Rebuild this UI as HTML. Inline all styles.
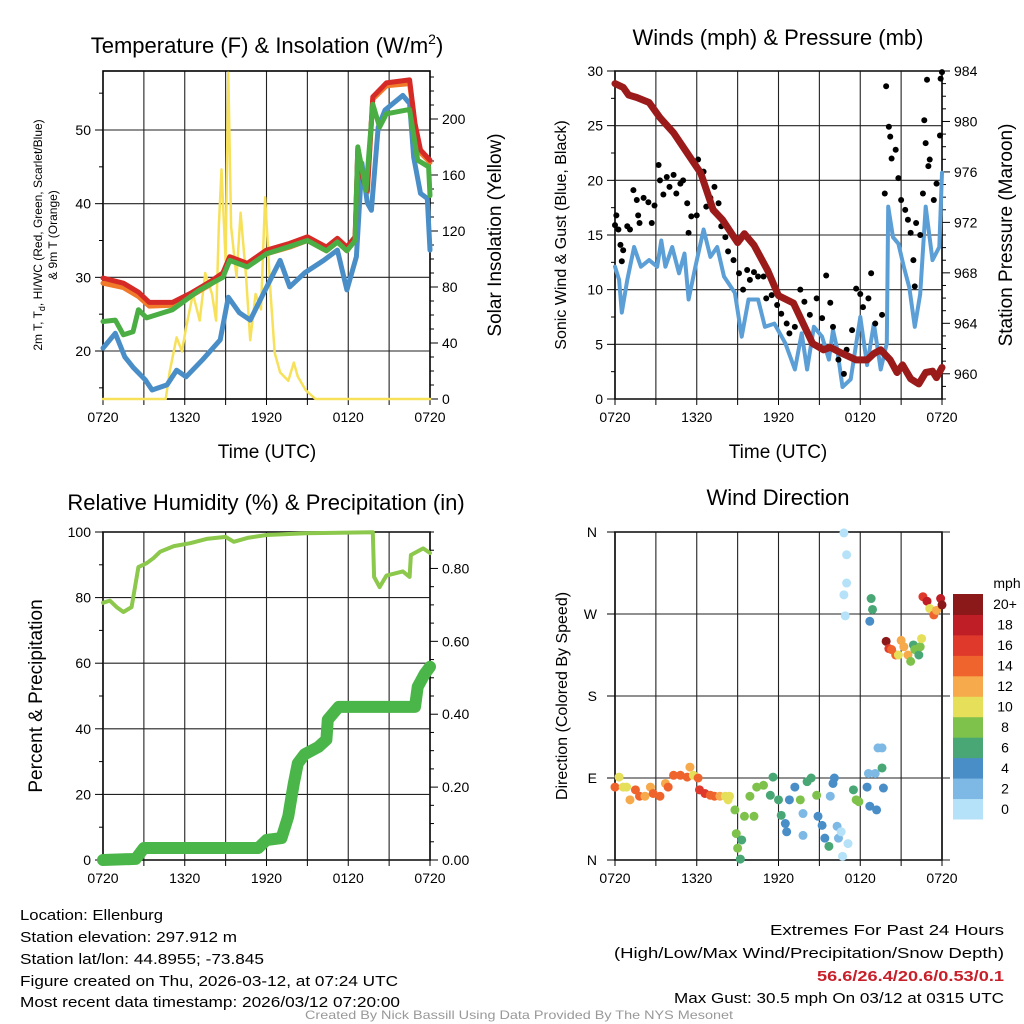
<!DOCTYPE html>
<html><head><meta charset="utf-8"><style>
html,body{margin:0;padding:0;background:#fff;}
svg{display:block;font-family:"Liberation Sans",Arial,sans-serif;}
</style></head><body>
<svg id="fig" width="1024" height="1024" viewBox="0 0 1024 1024" xmlns="http://www.w3.org/2000/svg">
<g id="p1"></g>
<g id="p2"></g>
<g id="p3"></g>
<g id="p4"></g>
<g font-size="15" fill="#000">
<text x="20" y="920" textLength="143" lengthAdjust="spacingAndGlyphs">Location: Ellenburg</text>
<text x="20" y="942" textLength="217" lengthAdjust="spacingAndGlyphs">Station elevation: 297.912 m</text>
<text x="20" y="964" textLength="244" lengthAdjust="spacingAndGlyphs">Station lat/lon: 44.8955; -73.845</text>
<text x="20" y="986" textLength="378" lengthAdjust="spacingAndGlyphs">Figure created on Thu, 2026-03-12, at 07:24 UTC</text>
<text x="20" y="1007" textLength="380" lengthAdjust="spacingAndGlyphs">Most recent data timestamp: 2026/03/12 07:20:00</text>
</g>
<g font-size="15" fill="#000">
<text x="1004" y="935" text-anchor="end" textLength="234" lengthAdjust="spacingAndGlyphs">Extremes For Past 24 Hours</text>
<text x="1004" y="958" text-anchor="end" textLength="390" lengthAdjust="spacingAndGlyphs">(High/Low/Max Wind/Precipitation/Snow Depth)</text>
<text x="1004" y="981" text-anchor="end" fill="#c8202a" font-weight="bold" textLength="187" lengthAdjust="spacingAndGlyphs">56.6/26.4/20.6/0.53/0.1</text>
<text x="1004" y="1003" text-anchor="end" textLength="330" lengthAdjust="spacingAndGlyphs">Max Gust: 30.5 mph On 03/12 at 0315 UTC</text>
</g>
<text x="519" y="1019" text-anchor="middle" font-size="12" fill="#999" textLength="428" lengthAdjust="spacingAndGlyphs">Created By Nick Bassill Using Data Provided By The NYS Mesonet</text>
</svg>
<script>
// ---------- data (time in hours since 0720 UTC) ----------
const xTickLabels = ["0720","1320","1920","0120","0720"];
const tRed = [0,1.5,2.6,3.4,5.1,6.4,7.85,8.8,9.3,10.6,12,13.7,15,16.4,17.2,17.9,18.5,18.7,19.1,19.4,19.8,20.8,22.5,22.9,23.3,24];
const tempRed = [29.9,29.2,28,26.6,26.6,27.8,29.4,30.6,32.8,31.9,33.7,34.6,35.5,34.1,35.3,34.1,35.5,47.5,43.2,41.8,54.5,56.4,56.8,50.9,47.3,45.9];
const tempOrange = [29.2,28.6,27.4,26.1,26.2,27.4,29.0,30.2,32.3,31.5,33.2,34.1,35.0,33.6,34.8,33.6,35.0,47.0,42.8,41.5,54.2,56.0,56.3,50.5,46.9,45.6];
const tGreen = [0,0.9,1.5,2.2,2.6,3.2,5.1,7.1,8.8,9.3,10.6,12,13.7,15,16.4,17.2,17.9,18.5,18.7,19.3,19.8,20.3,20.8,22.5,23.1,23.9,24];
const tempGreen = [24,24.2,22.2,22.6,25.6,24.5,25.6,28.3,30,32.3,31.4,33.2,34.2,35,33.6,34.8,33.6,35,47.7,41.8,53.5,50.4,52.2,52.8,45.9,45,41.1];
const tBlue = [0,0.9,1.6,2.2,3.1,3.6,4.7,5.4,6.1,7.3,8.6,9.2,10,10.8,11.8,13,13.7,14.8,16.2,17.2,17.9,18.6,19,19.4,19.7,20.2,20.7,22,22.5,22.8,23.3,23.8,24];
const tempBlue = [20.4,22.4,19.2,17.8,16.1,14.7,15.4,17.4,16.5,18.8,21.5,27.3,25.2,24.2,27.9,32.3,28.7,30.6,32.3,33.7,28.3,32.8,45.5,40.1,39.1,50.4,52.7,54.7,53.6,46.3,41.4,40.7,33.7];
const tSolar = [0,4.6,4.9,5.4,5.8,6.1,6.6,7.1,7.5,8,8.3,8.5,8.7,9,9.2,9.4,9.8,10.1,10.5,10.8,11.2,11.6,11.9,12.3,12.6,13,13.6,14,14.3,14.9,15.6,24];
const solar = [0,0,20,44,34,51,75,56,90,75,56,123,164,99,233,123,87,133,87,42,75,64,144,75,33,19,13,26,16,6,0,0];

const tPres = [0,0.6,1,1.6,2.5,3.3,4.3,5.3,6.3,7.2,7.9,9,9.5,10.2,11.2,12,13.1,13.8,14.5,15.3,15.8,16.7,17.7,18.5,19,19.5,20.2,20.7,21.1,21.7,22.3,22.8,23.3,23.6,24];
const pressure = [983,982.7,982.1,981.9,981.5,980.3,979.1,977.5,975.9,973,972.2,970.4,971.1,970.2,968.2,966.2,965.6,964,962.4,961.9,962.1,961.6,961.1,961.1,961.6,961.9,961.1,960.1,960.7,959.6,959.2,960.1,960.2,959.7,960.5];
const tWind = [0,0.3,0.5,0.9,1.4,1.9,2.5,3.1,3.4,3.7,4.2,4.7,5.1,5.4,5.9,6.5,7,7.5,8,8.8,9.3,9.8,10.5,11,11.7,12.5,13.2,13.7,14.1,14.6,15.2,15.7,16,16.3,16.7,17.3,18,18.5,19,19.5,19.95,20.05,20.4,20.8,21.2,21.6,22,22.4,22.8,23.3,23.8,24];
const windSpeed = [12.1,10.9,7.9,10.9,13.9,12.1,12.7,12.1,14.5,12.1,13.9,11.5,13.3,9.1,12.1,15.5,13,13.9,11.2,9.7,5.7,9.1,9.1,6.6,6.9,5.1,2.7,6,2.7,6.6,5.7,3.6,6.3,4.6,1.1,1.8,7.5,3.1,6.9,2.7,5.1,17.6,14.8,14.2,12.1,10.2,6.6,9.6,17.6,12.7,13.9,20.7];
const tGust = [0,0.1,0.25,0.4,0.5,0.6,0.9,1.1,1.35,1.6,1.7,1.8,2.1,2.45,2.7,2.9,3.2,3.3,3.55,3.8,4,4.3,4.5,4.8,5,5.3,5.4,5.6,6,6.1,6.5,6.7,7,7.3,7.6,7.8,8.1,8.3,8.7,9.1,9.4,9.7,9.9,10.2,10.5,10.9,11.1,11.5,11.9,12.2,12.6,12.8,13.2,13.6,13.9,14.3,14.8,15.2,15.5,15.8,16,16.4,16.8,17,17.4,17.7,18,18.2,18.6,18.8,19.1,19.6,19.8,19.9,20.1,20.2,20.3,20.6,20.8,21,21.3,21.5,21.7,21.9,22,22.1,22.4,22.6,22.7,22.8,22.9,23,23.1,23.4,23.6,23.85,23.9,24];
const gust = [15.9,16.8,15.5,14.1,12.6,13.6,15.8,15.5,19.1,18.2,16.8,16.1,18.4,18,16.1,17.7,21.4,20,18.7,20.3,19.4,20.5,18.8,19.7,20,17.9,15.2,16.7,16.8,21.9,20.8,17.6,18.4,19.4,17.9,15.8,14.8,13.5,12.7,11.5,10,11.8,10.9,11.6,11.2,11.2,9.2,9.5,8.6,7.8,6.9,6,6.6,10,8.9,7.7,9.2,7.4,11.3,8.8,6.6,3.6,2.3,4.5,6.3,10.1,9.6,8.4,9.2,11.5,6.9,7.7,18.8,28.6,24.9,24,22,22.8,20.2,18.2,17.3,16.4,15.2,12.7,10.3,16.1,15,18.8,25.5,23.4,29.2,21.3,21.9,18.2,19.7,24.1,29.3,29.9];

const tRH = [0,0.5,1,1.5,2.1,2.6,3.2,3.7,4.2,5.2,6.4,7.6,9,9.6,10.6,12,14.9,19.8,19.9,20.3,20.8,22,22.5,22.6,23.5,24];
const rh = [78.4,79.1,77.1,75.6,77.1,89.3,90.5,92,94,95.7,96.6,97.9,98.5,97,98.2,99.1,99.6,99.9,86.3,83.2,86.7,88,86.3,93,95,93.6];
const tPrecip = [0,2.4,3,11.4,12,13.1,13.6,13.8,14,14.3,14.8,15.8,16.4,16.5,17.3,22.9,23.1,23.6,24];
const precip = [0,0.003,0.033,0.033,0.055,0.06,0.12,0.165,0.21,0.265,0.29,0.31,0.33,0.385,0.42,0.42,0.475,0.51,0.53];

const tDir = [0,0.3,0.6,0.85,1.1,1.5,1.8,2.2,2.6,2.8,3.3,3.7,3.9,4.3,4.8,5.3,5.5,5.75,6.1,6.2,6.6,7,7.3,7.7,8.1,8.4,8.3,8.8,8.9,9,9.2,9.3,9.5,9.9,10.2,10.4,10.9,11.4,11.6,12,12.2,12.5,12.6,12.8,13.2,13.6,13.8,13.8,14.1,14.4,14.8,14.9,15.2,15.4,15.7,15.8,16,16.1,16.3,16.4,16.6,16.7,16.8,17,17,16.8,16.9,17.1,17.5,17.7,17.9,18.5,18.7,18.8,18.9,18.7,18.6,19.1,19.2,19.3,19.6,19.6,19.7,19.9,20.1,20.3,20.6,20.8,21,21.2,21.5,21.7,21.9,22,22.3,22.4,22.5,22.6,22.9,23.1,23.4,23.6,23.9,24];
const dirDeg = [80,91,80,80,66,77,70,70,80,73,70,84,80,93,93,91,102,93,90,77,73,71,70,70,70,70,66,55,29,13,1,22,48,70,48,80,82,71,91,66,49,40,31,66,80,66,51,27,86,90,71,48,38,24,15,70,84,90,37,24,31,4,359,335,304,291,268,18,77,66,64,80,59,287,275,262,95,95,55,123,123,101,79,240,232,231,225,225,241,234,225,218,236,231,225,234,243,289,284,276,269,274,287,280];
const dirSpeed = [14,10,10,10,12,14,14,12,12,14,14,12,14,14,14,14,12,10,14,16,16,14,14,12,10,10,10,8,8,8,6,6,8,8,8,8,8,6,6,6,6,4,4,4,4,8,2,2,6,6,8,4,4,4,6,2,4,4,2,2,0,0,0,0,0,0,0,0,6,8,8,4,4,6,6,4,2,2,4,2,2,6,4,20,16,14,14,10,12,12,12,8,6,8,6,8,10,16,18,10,14,12,18,20];
const speedBins = [0,2,4,6,8,10,12,14,16,18,20];
const speedLabels = ["0","2","4","6","8","10","12","14","16","18","20+"];
const speedColors = ["#b5e2f8","#7db9e4","#4a8ec8","#49a775","#7ec24c","#e6df5a","#f6aa4b","#ef642c","#df392c","#bf1e26","#8b1919"];

// ---------- helpers ----------
const NS = "http://www.w3.org/2000/svg";
function mk(parent, tag, attrs){ const e=document.createElementNS(NS,tag); for(const k in attrs) e.setAttribute(k,attrs[k]); parent.appendChild(e); return e; }
function txt(parent, s, attrs){ const e=mk(parent,"text",attrs); e.textContent=s; return e; }
function lin(d0,d1,r0,r1){ return v => r0+(v-d0)*(r1-d0===0?0:(r1-r0)/(d1-d0)); }
function pathFrom(xs, ys, fx, fy){ return xs.map((t,i)=>(i?"L":"M")+fx(t).toFixed(1)+","+fy(ys[i]).toFixed(1)).join(""); }

function frame(g, L, R, T, B, fx){
  // grid verticals every 3 h
  for(let h=3;h<24;h+=3){ const x=fx(h); const l=mk(g,"line",{x1:x,x2:x,y1:T,y2:B,stroke:"#222","stroke-width":1.1});
      }
  // x ticks + labels
  for(let h=0;h<=24;h+=3){ const x=fx(h); mk(g,"line",{x1:x,x2:x,y1:B,y2:B+6,stroke:"#000","stroke-width":1}); }
  xTickLabels.forEach((s,i)=>{ const t=txt(g,s,{x:fx(i*6),y:B+23,"text-anchor":"middle","font-size":14});
      });
  const r=mk(g,"rect",{x:L,y:T,width:R-L,height:B-T,fill:"none",stroke:"#000","stroke-width":1.6});
   
}
function hgrid(g,L,R,y){ const l=mk(g,"line",{x1:L,x2:R,y1:y,y2:y,stroke:"#222","stroke-width":1.1});
    }
function yticks(g, side, X, fy, from, to, major, minor, fmt, grid, L, R){
  const dir = side==="left"?-1:1;
  for(let v=from; v<=to+1e-9; v+=minor){ const y=fy(v); const isMaj=Math.abs(v/major-Math.round(v/major))<1e-6;
    mk(g,"line",{x1:X,x2:X+dir*(isMaj?8:4),y1:y,y2:y,stroke:"#000","stroke-width":1});
    if(isMaj){ const t=txt(g,fmt(v),{x:X+dir*12,y:y+5,"text-anchor":side==="left"?"end":"start","font-size":14});
       
      if(grid) hgrid(g,L,R,y); } }
}
function vtitle(g,s,x,y,size,name){ const t=txt(g,s,{x:0,y:0,"text-anchor":"middle","font-size":size,transform:`translate(${x},${y}) rotate(-90)`});
    return t; }
function series(g,xs,ys,fx,fy,color,w,name){ const p=mk(g,"path",{d:pathFrom(xs,ys,fx,fy),fill:"none",stroke:color,"stroke-width":w,"stroke-linejoin":"round","stroke-linecap":"round"});
    return p; }

// ---------- panel 1 ----------
(function(){
  const g=document.getElementById("p1"); const L=103,R=430,T=71,B=399;
  const fx=lin(0,24,L,R); const fy=lin(20,50,351,130); const fs=lin(0,200,399,119);
  const ttl=txt(g,"",{x:267,y:53,"text-anchor":"middle","font-size":22});
  ttl.innerHTML='Temperature (F) &amp; Insolation (W/m<tspan font-size="14" dy="-9">2</tspan><tspan dy="9">)</tspan>';
   
  frame(g,L,R,T,B,fx);
  yticks(g,"left",L,fy,15,55,10,5,v=>v,true,L,R);
  yticks(g,"right",R,fs,0,230,40,10,v=>v,false);
  series(g,tSolar,solar,fx,fs,"#f7e15a",2.5,"solar-insolation-line");
  series(g,tRed,tempOrange,fx,fy,"#f07a2a",5,"9m-temperature-line");
  series(g,tBlue,tempBlue,fx,fy,"#4a8ec8",5,"wind-chill-line");
  series(g,tRed,tempRed,fx,fy,"#d62a26",5,"temperature-line");
  series(g,tGreen,tempGreen,fx,fy,"#4aae44",5,"dewpoint-line");
  const xt=txt(g,"Time (UTC)",{x:267,y:458,"text-anchor":"middle","font-size":19});  
  const lt=txt(g,"",{x:0,y:0,"text-anchor":"middle","font-size":12,transform:"translate(42,235) rotate(-90)"});
  lt.innerHTML='2m T, T<tspan font-size="9" dy="3">d</tspan><tspan dy="-3">, HI/WC (Red, Green, Scarlet/Blue)</tspan>';
   
  vtitle(g,"& 9m T (Orange)",57,235,12,"left-y-axis-title-line2");
  vtitle(g,"Solar Insolation (Yellow)",501,235,19,"right-y-axis-title");
})();

// ---------- panel 2 ----------
(function(){
  const g=document.getElementById("p2"); const L=615,R=942,T=71,B=399;
  const fx=lin(0,24,L,R); const fy=lin(0,30,399,71); const fp=lin(958,984,399,71);
  const ttl=txt(g,"Winds (mph) & Pressure (mb)",{x:778,y:45,"text-anchor":"middle","font-size":22});
   
  frame(g,L,R,T,B,fx);
  yticks(g,"left",L,fy,0,30,5,2.5,v=>v,true,L,R);
  yticks(g,"right",R,fp,958,984,4,1,v=>v,false);
  series(g,tWind,windSpeed,fx,fy,"#5b9fd6",4,"sonic-wind-line");
  tGust.forEach((t,i)=>{ const c=mk(g,"circle",{cx:fx(t),cy:fy(gust[i]),r:3,fill:"#000"});
      });
  series(g,tPres,pressure,fx,fp,"#9b1b1b",7,"pressure-line");
  const xt=txt(g,"Time (UTC)",{x:778,y:458,"text-anchor":"middle","font-size":19});  
  vtitle(g,"Sonic Wind & Gust (Blue, Black)",566,235,16,"left-y-axis-title");
  vtitle(g,"Station Pressure (Maroon)",1012,235,19,"right-y-axis-title");
})();

// ---------- panel 3 ----------
(function(){
  const g=document.getElementById("p3"); const L=103,R=430,T=532,B=860;
  const fx=lin(0,24,L,R); const fy=lin(0,100,860,532); const fp=lin(0,0.9,860,532);
  const ttl=txt(g,"Relative Humidity (%) & Precipitation (in)",{x:266,y:510,"text-anchor":"middle","font-size":22});
   
  frame(g,L,R,T,B,fx);
  yticks(g,"left",L,fy,0,100,20,10,v=>v,true,L,R);
  yticks(g,"right",R,fp,0,0.9,0.2,0.05,v=>v.toFixed(2),false);
  series(g,tRH,rh,fx,fy,"#8cc84b",4,"relative-humidity-line");
  series(g,tPrecip,precip,fx,fp,"#4ab548",12,"precipitation-line");
  vtitle(g,"Percent & Precipitation",42,696,19,"left-y-axis-title");
})();

// ---------- panel 4 ----------
(function(){
  const g=document.getElementById("p4"); const L=615,R=942,T=532,B=860;
  const fx=lin(0,24,L,R); const fy=lin(0,360,860,532);
  const ttl=txt(g,"Wind Direction",{x:778,y:505,"text-anchor":"middle","font-size":22});
   
  frame(g,L,R,T,B,fx);
  ["N","E","S","W","N"].forEach((s,i)=>{ const y=fy(i*90);
    mk(g,"line",{x1:L-8,x2:L,y1:y,y2:y,stroke:"#000"}); hgrid(g,L,R+8,y);
    const t=txt(g,s,{x:L-18,y:y+5,"text-anchor":"end","font-size":14});   });
  function colorFor(s){ let k=0; speedBins.forEach((b,i)=>{ if(s>=b) k=i; }); return speedColors[k]; }
  tDir.forEach((t,i)=>{ const c=mk(g,"circle",{cx:fx(t),cy:fy(dirDeg[i]),r:4.5,fill:colorFor(dirSpeed[i])});
      });
  vtitle(g,"Direction (Colored By Speed)",567,696,16,"left-y-axis-title");
  // colorbar
  const cb=mk(g,"g",{});  
  const top=594, bot=819, h=(bot-top)/speedColors.length;
  speedColors.forEach((c,i)=>{ const y=bot-(i+1)*h;
    const r=mk(cb,"rect",{x:953,y:y,width:30,height:h+0.5,fill:c});  
    const t=txt(cb,speedLabels[i],{x:1005,y:y+h/2+5,"text-anchor":"middle","font-size":14});   });
  const u=txt(cb,"mph",{x:1007,y:588,"text-anchor":"middle","font-size":14});  
})();
</script>
</body></html>
